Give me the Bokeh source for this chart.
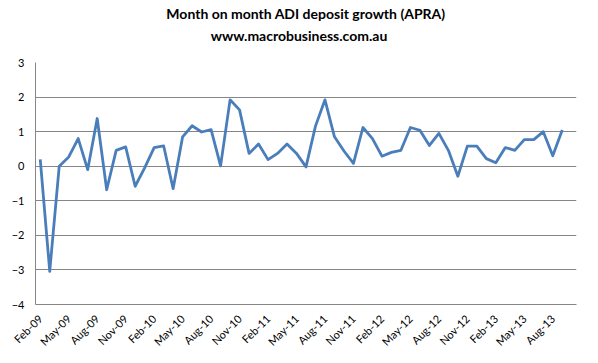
import pandas as pd
from bokeh.plotting import figure
from bokeh.models import Range1d, FixedTicker, LinearAxis, ColumnDataSource
from bokeh.embed import file_html
from bokeh.resources import INLINE

# ---- data ----
months = [d.strftime("%b-%y") for d in pd.date_range("2009-02-01", periods=57, freq="MS")]
growth = [0.20, -3.04, 0.00, 0.27, 0.80, -0.10, 1.38, -0.68, 0.46, 0.56,
          -0.58, -0.05, 0.54, 0.59, -0.65, 0.85, 1.17, 0.99, 1.06, 0.01,
          1.92, 1.63, 0.37, 0.64, 0.19, 0.37, 0.64, 0.37, -0.02, 1.16,
          1.92, 0.85, 0.44, 0.08, 1.12, 0.80, 0.29, 0.40, 0.46, 1.12,
          1.04, 0.60, 0.95, 0.46, -0.29, 0.58, 0.58, 0.22, 0.10, 0.54,
          0.46, 0.77, 0.77, 1.00, 0.30, 1.05]
tick_labels = ["Feb-09", "May-09", "Aug-09", "Nov-09", "Feb-10", "May-10", "Aug-10",
               "Nov-10", "Feb-11", "May-11", "Aug-11", "Nov-11", "Feb-12", "May-12",
               "Aug-12", "Nov-12", "Feb-13", "May-13", "Aug-13"]
y_ticks = [-4, -3, -2, -1, 0, 1, 2, 3]
title_line1 = "Month on month ADI deposit growth (APRA)"
title_line2 = "www.macrobusiness.com.au"

FONT = "Lato"
GRID = "#868686"

src = ColumnDataSource(dict(x=list(range(len(growth))), y=growth))

p = figure(frame_width=541, frame_height=242,
           min_border_left=35, min_border_right=22, min_border_top=62, min_border_bottom=59,
           x_range=Range1d(-0.5, len(months) - 0.5), y_range=Range1d(-4, 3),
           output_backend="svg", toolbar_location=None, title=None)

p.line("x", "y", source=src, line_color="#4A7EBB", line_width=2.8, line_join="round")

# two-line chart title, carried by an invisible axis above the frame
title_x = 27.26  # horizontal centre of the title in x units
tax = LinearAxis(ticker=FixedTicker(ticks=[title_x]),
                 major_label_overrides={title_x: title_line2},
                 axis_label=title_line1,
                 axis_line_color=None, major_tick_line_color=None, minor_tick_line_color=None,
                 major_tick_out=0, major_tick_in=0, major_label_standoff=19,
                 axis_label_standoff=2,
                 major_label_text_font=FONT, major_label_text_font_size="14px",
                 major_label_text_font_style="bold", major_label_text_color="#000000",
                 axis_label_text_font=FONT, axis_label_text_font_size="14px",
                 axis_label_text_font_style="bold", axis_label_text_color="#000000")
p.add_layout(tax, "above")

# bottom (month) axis
xa = p.below[0]
xa.ticker = FixedTicker(ticks=[months.index(l) for l in tick_labels])
xa.major_label_overrides = {months.index(l): l for l in tick_labels}
xa.major_label_orientation = 0.785398
xa.major_tick_line_color = None
xa.minor_tick_line_color = None
xa.major_tick_out = 0
xa.major_tick_in = 0
xa.axis_line_color = GRID
xa.major_label_standoff = 12
xa.major_label_text_font = FONT
xa.major_label_text_font_size = "11px"
xa.major_label_text_color = "#000000"

# left (value) axis
ya = p.left[0]
ya.ticker = FixedTicker(ticks=y_ticks)
ya.major_tick_line_color = None
ya.minor_tick_line_color = None
ya.major_tick_out = 0
ya.major_tick_in = 0
ya.axis_line_color = GRID
ya.major_label_standoff = 11
ya.major_label_text_font = FONT
ya.major_label_text_font_size = "11px"
ya.major_label_text_color = "#000000"

p.xgrid.grid_line_color = None
p.ygrid.grid_line_color = GRID
p.ygrid.grid_line_width = 1
p.outline_line_color = None
p.background_fill_color = "white"
p.border_fill_color = "white"

open("out.html", "w").write(file_html(p, INLINE))
